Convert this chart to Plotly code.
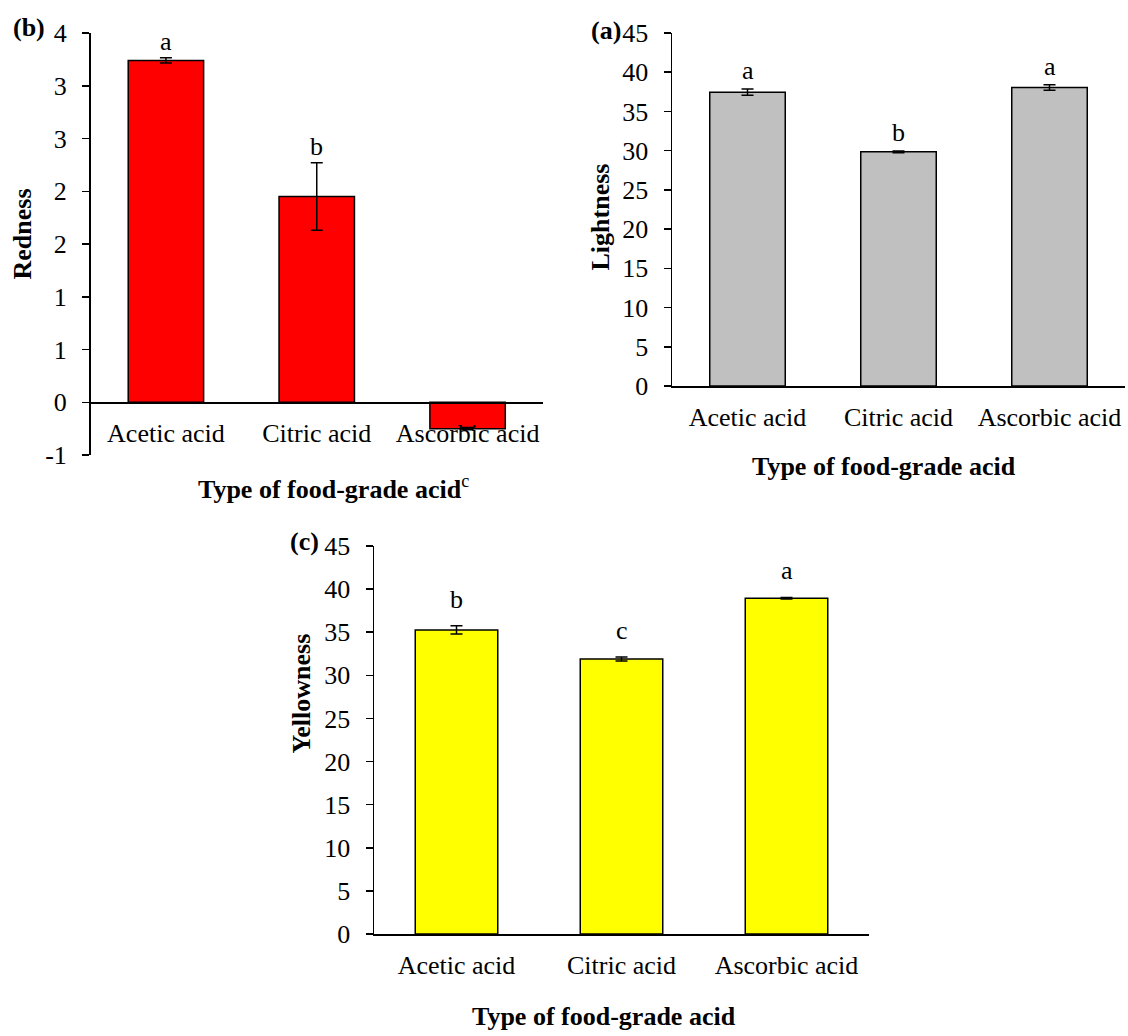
import plotly.graph_objects as go

# ---------------- data ----------------
categories = ["Acetic acid", "Citric acid", "Ascorbic acid"]

redness = [3.24, 1.95, -0.25]
redness_err = [0.025, 0.32, 0.01]
redness_letters = ["a", "b", ""]
redness_tickvals = [-0.5, 0, 0.5, 1, 1.5, 2, 2.5, 3, 3.5]
redness_ticktext = ["-1", "0", "1", "1", "2", "2", "3", "3", "4"]

lightness = [37.45, 29.85, 38.05]
lightness_err = [0.4, 0.1, 0.36]
lightness_letters = ["a", "b", "a"]

yellowness = [35.27, 31.9, 38.94]
yellowness_err = [0.48, 0.23, 0.1]
yellowness_letters = ["b", "c", "a"]

tick_0_45 = [0, 5, 10, 15, 20, 25, 30, 35, 40, 45]

# ---------------- layout helpers ----------------
W, H = 1128, 1036
FONT = "Liberation Serif, Times New Roman, serif"
FS = 26


def px(x):
    return x / W


def py(y):
    return 1 - y / H


fig = go.Figure()

panels = [
    # (values, errors, color, xaxis, yaxis)
    (redness, redness_err, "#FF0000", "x", "y"),
    (lightness, lightness_err, "#C0C0C0", "x2", "y2"),
    (yellowness, yellowness_err, "#FFFF00", "x3", "y3"),
]
for vals, errs, col, xa, ya in panels:
    fig.add_trace(go.Bar(
        x=categories, y=vals, xaxis=xa, yaxis=ya,
        marker=dict(color=col, line=dict(color="black", width=1.5)),
        error_y=dict(type="data", array=errs, color="black", thickness=1.5, width=6),
        showlegend=False,
    ))

axis_common = dict(showline=True, linecolor="black", linewidth=1.5, showgrid=False,
                   zeroline=False, tickfont=dict(family=FONT, size=FS, color="black"),
                   automargin=False, fixedrange=True)
yaxis_common = dict(axis_common, ticks="outside", ticklen=7, tickwidth=1.5,
                    tickcolor="black", ticklabelstandoff=10)
xaxis_common = dict(axis_common, ticks="", ticklabelstandoff=7, range=[-0.5, 2.5])

# domains
b_x = [px(90.5), px(543)]
b_y = [py(455), py(33)]
a_x = [px(672), px(1125)]
a_y = [py(386), py(33)]
c_x = [px(374), px(869)]
c_y = [py(934), py(546)]

red_range = [redness_tickvals[0], redness_tickvals[-1]]
zero_pos = b_y[0] + (0 - red_range[0]) / (red_range[1] - red_range[0]) * (b_y[1] - b_y[0])

fig.update_layout(
    width=W, height=H,
    margin=dict(l=0, r=0, t=0, b=0),
    paper_bgcolor="white", plot_bgcolor="white",
    bargap=0.5,
    font=dict(family=FONT, size=FS, color="black"),
    xaxis=dict(xaxis_common, domain=b_x, anchor="free", position=zero_pos),
    yaxis=dict(yaxis_common, domain=b_y, anchor="x", range=red_range,
               tickmode="array", tickvals=redness_tickvals, ticktext=redness_ticktext),
    xaxis2=dict(xaxis_common, domain=a_x, anchor="y2"),
    yaxis2=dict(yaxis_common, domain=a_y, anchor="x2", range=[0, 45],
                tickmode="array", tickvals=tick_0_45),
    xaxis3=dict(xaxis_common, domain=c_x, anchor="y3"),
    yaxis3=dict(yaxis_common, domain=c_y, anchor="x3", range=[0, 45],
                tickmode="array", tickvals=tick_0_45),
)

# significance letters
letter_sets = [
    (redness, redness_err, redness_letters, "x", "y", 0),
    (lightness, lightness_err, lightness_letters, "x2", "y2", 2),
    (yellowness, yellowness_err, yellowness_letters, "x3", "y3", 10),
]
for vals, errs, letters, xa, ya, shift in letter_sets:
    for cat, v, e, l in zip(categories, vals, errs, letters):
        if not l:
            continue
        fig.add_annotation(x=cat, y=v + e, xref=xa, yref=ya, text=l, showarrow=False,
                           yanchor="bottom", yshift=shift,
                           font=dict(family=FONT, size=FS, color="black"))

# axis titles & panel labels
bold = dict(family=FONT, size=FS, color="black")
texts = [
    ("<b>Type of food-grade acid</b><sup>c</sup>", 333, 487, 0),
    ("<b>Type of food-grade acid</b>", 884, 466, 0),
    ("<b>Type of food-grade acid</b>", 604, 1016, 0),
    ("<b>Redness</b>", 21.5, 234, -90),
    ("<b>Lightness</b>", 600, 217.5, -90),
    ("<b>Yellowness</b>", 300.6, 694, -90),
    ("<b>(b)</b>", 28.7, 28, 0),
    ("<b>(a)</b>", 605.6, 30, 0),
    ("<b>(c)</b>", 304.8, 541, 0),
]
for t, x, y, ang in texts:
    fig.add_annotation(x=px(x), y=py(y), xref="paper", yref="paper", text=t,
                       showarrow=False, xanchor="center", yanchor="middle",
                       textangle=ang, font=bold)

fig.write_html(
    "out.html",
    config={"displayModeBar": False, "staticPlot": True},
    post_script="document.body.style.margin='0';document.body.style.overflow='hidden';",
)
